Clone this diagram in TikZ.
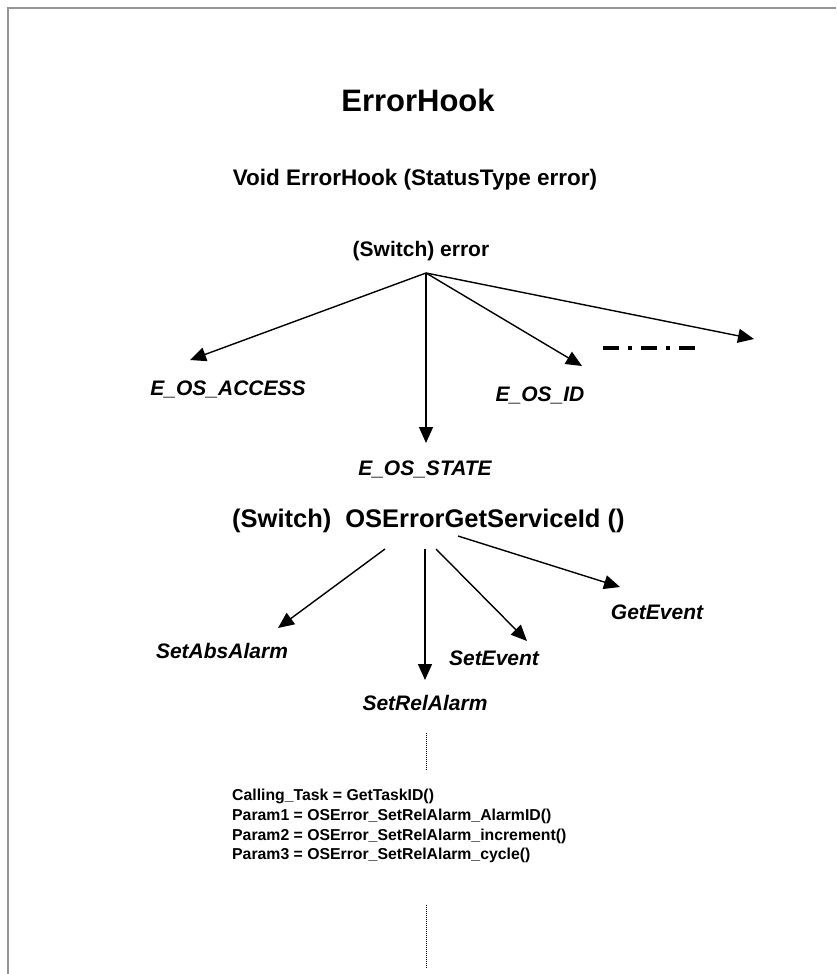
\documentclass[tikz,border=0pt]{standalone}
\usepackage{fontspec}
\setmainfont{Liberation Sans}
\usetikzlibrary{arrows.meta}
\definecolor{framegray}{RGB}{150,150,150}
\begin{document}
\begin{tikzpicture}[x=1pt,y=-1pt,
  lbl/.style={inner sep=0pt, anchor=base, font=\bfseries\itshape\fontsize{21}{25}\selectfont},
  ttl/.style={inner sep=0pt, anchor=base, font=\bfseries\fontsize{22.5}{27}\selectfont},
  codeln/.style={inner sep=0pt, anchor=base west, font=\bfseries\fontsize{15.8}{19}\selectfont},
  arr/.style={line width=1.4pt, -{Triangle[length=16pt,width=14pt]}},
  dotln/.style={line width=0.9pt, dash pattern=on 1pt off 1pt},
  dashdot/.style={line width=4pt, dash pattern=on 16pt off 9pt on 4pt off 9pt},
  framelines/.style={line width=2pt, draw=framegray}]
\useasboundingbox (0,0) rectangle (836,974);
\draw[framelines] (8,974) -- (8,8) -- (836,8);

\node[inner sep=0pt, anchor=base, font=\bfseries\fontsize{31}{35}\selectfont] (title) at (418,111) {ErrorHook};
\node[ttl] (sig) at (415,185) {Void ErrorHook (StatusType error)};
\node[ttl, font=\bfseries\fontsize{21}{25}\selectfont] (sw1) at (421,256) {(Switch) error};

\coordinate (o1) at (426,273);
\coordinate (t1) at (190,360);
\coordinate (t2) at (426,443);
\coordinate (t3) at (582,366);
\coordinate (t4) at (754,339);
\draw[arr] (o1) -- (t1);
\draw[arr] (o1) -- (t2);
\draw[arr] (o1) -- (t3);
\draw[arr] (o1) -- (t4);
\coordinate (dd1) at (603,348);
\coordinate (dd2) at (695,348);
\draw[dashdot] (dd1) -- (dd2);

\node[lbl] (access) at (228,395) {E\_OS\_ACCESS};
\node[lbl] (osid) at (540,401) {E\_OS\_ID};
\node[lbl] (state) at (425,475) {E\_OS\_STATE};

\node[ttl, anchor=base west, font=\bfseries\fontsize{25.5}{30}\selectfont] (sw2) at (232,527) {(Switch)\hspace{14pt}OSErrorGetServiceId ()};

\coordinate (s1) at (385,549);
\coordinate (s2) at (425,549);
\coordinate (s3) at (436,549);
\coordinate (s4) at (458,536);
\coordinate (u1) at (278,628);
\coordinate (u2) at (425,680);
\coordinate (u3) at (527,641);
\coordinate (u4) at (620,587);
\draw[arr] (s1) -- (u1);
\draw[arr] (s2) -- (u2);
\draw[arr] (s3) -- (u3);
\draw[arr] (s4) -- (u4);

\node[lbl] (absal) at (222,658) {SetAbsAlarm};
\node[lbl] (relal) at (425,710) {SetRelAlarm};
\node[lbl] (setev) at (494,665) {SetEvent};
\node[lbl] (getev) at (657,619) {GetEvent};

\coordinate (d1a) at (426,733);
\coordinate (d1b) at (426,770);
\draw[dotln] (d1a) -- (d1b);

\node[codeln] (c1) at (232,800) {Calling\_Task = GetTaskID()};
\node[codeln] (c2) at (232,820) {Param1 = OSError\_SetRelAlarm\_AlarmID()};
\node[codeln] (c3) at (232,840) {Param2 = OSError\_SetRelAlarm\_increment()};
\node[codeln] (c4) at (232,859) {Param3 = OSError\_SetRelAlarm\_cycle()};

\coordinate (d2a) at (426,905);
\coordinate (d2b) at (426,968);
\draw[dotln] (d2a) -- (d2b);
\end{tikzpicture}
\end{document}
